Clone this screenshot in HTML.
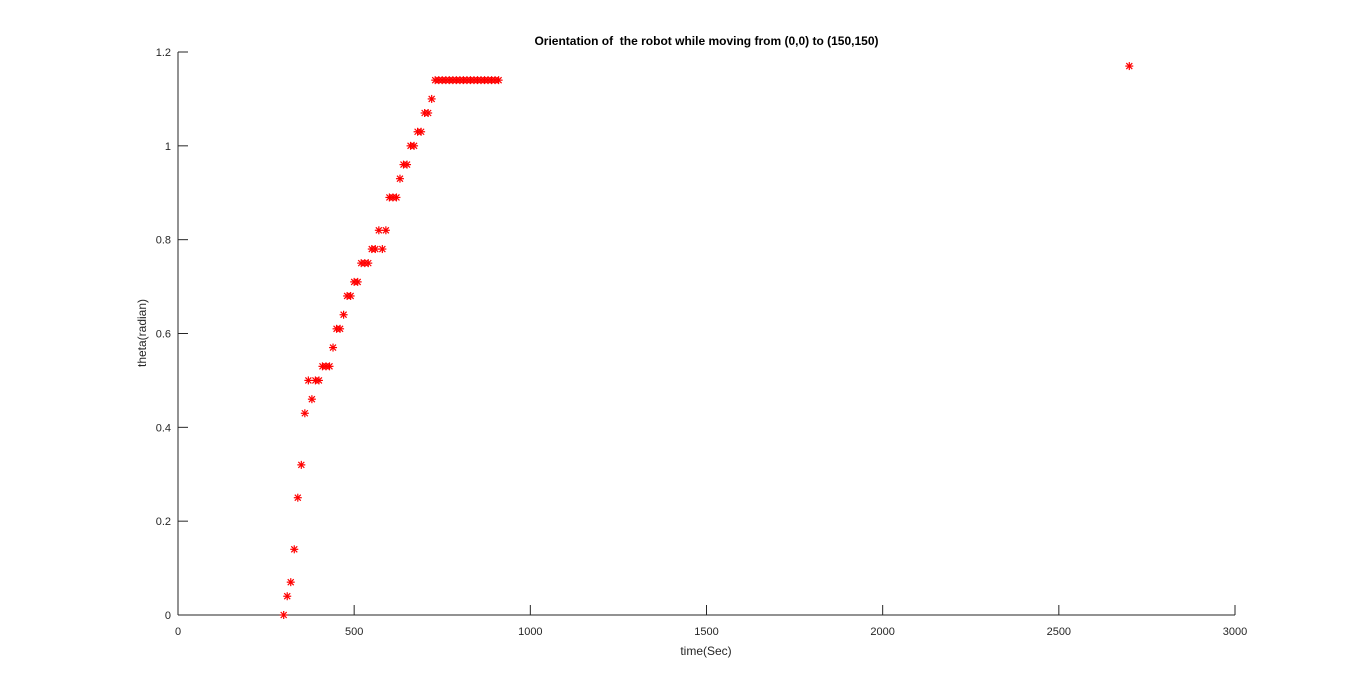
<!DOCTYPE html>
<html><head><meta charset="utf-8"><style>
body{margin:0;background:#fff;}
svg{display:block;font-family:"Liberation Sans",Arial,sans-serif;}
</style></head><body>
<svg id="chart" width="1366" height="691"></svg>
<script>
const times=[300,310,320,330,340,350,360,370,380,390,400,410,420,430,440,450,460,470,480,490,500,510,520,530,540,550,560,570,580,590,600,610,620,630,640,650,660,670,680,690,700,710,720,730,740,750,760,770,780,790,800,810,820,830,840,850,860,870,880,890,900,910,2700];
const thetas=[0,0.04,0.07,0.14,0.25,0.32,0.43,0.5,0.46,0.5,0.5,0.53,0.53,0.53,0.57,0.61,0.61,0.64,0.68,0.68,0.71,0.71,0.75,0.75,0.75,0.78,0.78,0.82,0.78,0.82,0.89,0.89,0.89,0.93,0.96,0.96,1.0,1.0,1.03,1.03,1.07,1.07,1.10,1.14,1.14,1.14,1.14,1.14,1.14,1.14,1.14,1.14,1.14,1.14,1.14,1.14,1.14,1.14,1.14,1.14,1.14,1.14,1.17];
const xTicks=[0,500,1000,1500,2000,2500,3000];
const yTicks=[0,0.2,0.4,0.6,0.8,1,1.2];
const L=178,R=1235,T=52,B=615;
const xs=v=>L+(v/3000)*(R-L);
const ys=v=>B-(v/1.2)*(B-T);
const svg=document.getElementById('chart');
const NS='http://www.w3.org/2000/svg';
function mk(t,a,txt){const e=document.createElementNS(NS,t);for(const k in a)e.setAttribute(k,a[k]);if(txt!==undefined)e.textContent=txt;svg.appendChild(e);return e;}
let e;
e=mk('line',{x1:L,y1:B,x2:R,y2:B,stroke:'#262626','stroke-width':1});


e=mk('line',{x1:L,y1:T,x2:L,y2:B,stroke:'#262626','stroke-width':1});


xTicks.forEach(v=>{
  const x=xs(v);
  mk('line',{x1:x,y1:B,x2:x,y2:B-10,stroke:'#262626'});
  e=mk('text',{x:x,y:B+20,'text-anchor':'middle','font-size':11,fill:'#262626'},String(v));
  
  
});
yTicks.forEach(v=>{
  const y=ys(v);
  mk('line',{x1:L,y1:y,x2:L+10,y2:y,stroke:'#262626'});
  e=mk('text',{x:L-7,y:y+4,'text-anchor':'end','font-size':11,fill:'#262626'},String(v));
  
  
});
e=mk('text',{x:(L+R)/2,y:45,'text-anchor':'middle','font-size':12,'font-weight':'bold',fill:'#000'},'Orientation of\u00a0 the robot while moving from (0,0) to (150,150)');


e=mk('text',{x:706,y:655,'text-anchor':'middle','font-size':12,fill:'#262626'},'time(Sec)');


e=mk('text',{x:0,y:0,'text-anchor':'middle','font-size':12,fill:'#262626',transform:'translate(146,333) rotate(-90)'},'theta(radian)');


times.forEach((t,i)=>{
  const x=xs(t),y=ys(thetas[i]),s=4;
  const g=document.createElementNS(NS,'g');
  
  
  g.setAttribute('stroke','#ff0000');g.setAttribute('stroke-width','1.2');
  [[x-s,y,x+s,y],[x,y-s,x,y+s],[x-3,y-3,x+3,y+3],[x-3,y+3,x+3,y-3]].forEach(c=>{
    const l=document.createElementNS(NS,'line');
    l.setAttribute('x1',c[0]);l.setAttribute('y1',c[1]);l.setAttribute('x2',c[2]);l.setAttribute('y2',c[3]);
    g.appendChild(l);
  });
  svg.appendChild(g);
});
</script>
</body></html>
